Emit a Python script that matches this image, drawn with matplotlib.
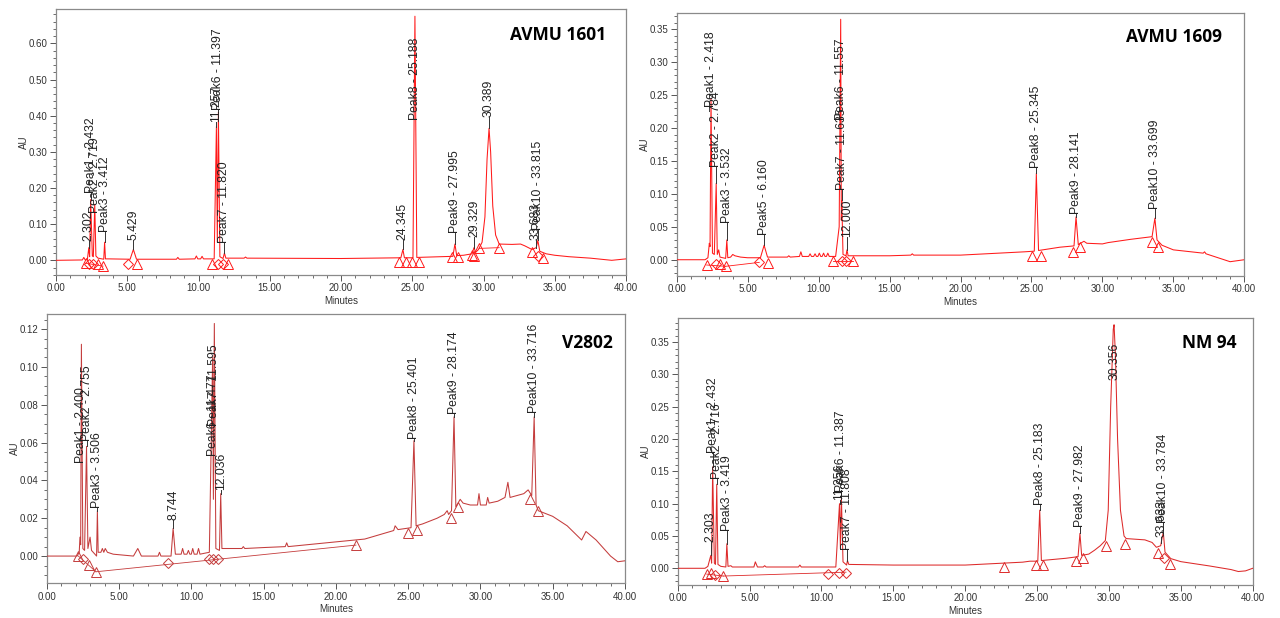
import numpy as np
import matplotlib
matplotlib.use("Agg")
import matplotlib.pyplot as plt
from matplotlib.ticker import MultipleLocator, AutoMinorLocator, FormatStrFormatter

plt.rcParams['font.family'] = ['Liberation Sans', 'DejaVu Sans']

# ---------------- AVMU 1601 (top left) ----------------
p1_name = "AVMU 1601"
p1_trace = [(0.0, 0.0), (1.85, 0.001), (1.95, 0.008), (2.05, 0.001), (2.2, 0.002),
            (2.302, 0.035), (2.36, 0.01), (2.432, 0.168), (2.55, 0.012), (2.62, 0.01),
            (2.719, 0.155), (2.8, 0.012), (2.95, 0.006), (3.35, 0.003), (3.412, 0.05),
            (3.47, 0.004), (3.7, 0.004), (5.2, 0.003), (5.429, 0.03), (5.65, 0.003),
            (8.45, 0.003), (8.55, 0.008), (8.65, 0.003), (9.75, 0.004), (9.85, 0.012),
            (9.95, 0.004), (10.15, 0.004), (10.25, 0.011), (10.35, 0.004), (11.1, 0.004),
            (11.257, 0.37), (11.32, 0.05), (11.397, 0.41), (11.5, 0.01), (11.72, 0.005),
            (11.82, 0.02), (11.92, 0.006), (13.2, 0.006), (13.3, 0.009), (13.4, 0.006),
            (20.0, 0.005), (24.2, 0.007), (24.345, 0.03), (24.45, 0.007), (25.05, 0.007),
            (25.188, 0.675), (25.32, 0.008), (27.85, 0.011), (27.995, 0.045), (28.12, 0.013),
            (28.6, 0.014), (29.2, 0.018), (29.329, 0.035), (29.45, 0.022), (29.65, 0.03),
            (29.9, 0.05), (30.1, 0.12), (30.25, 0.28), (30.389, 0.365), (30.5, 0.3),
            (30.65, 0.15), (30.85, 0.07), (31.1, 0.045), (32.0, 0.044), (32.6, 0.045),
            (32.9, 0.04), (33.4, 0.03), (33.7, 0.035), (33.815, 0.055), (33.95, 0.025),
            (34.4, 0.018), (35.0, 0.014), (36.0, 0.01), (37.5, 0.006), (39.0, 0.0),
            (40.0, 0.004)]
p1_tri = [(2.1, -0.008), (2.95, -0.01), (3.3, -0.016), (5.65, -0.01), (10.95, -0.01),
          (12.1, -0.01), (24.07, -0.004), (24.56, -0.004), (24.98, -0.004), (25.5, -0.004),
          (27.77, 0.01), (28.19, 0.01), (29.17, 0.015), (29.33, 0.012), (29.7, 0.033),
          (31.1, 0.035), (33.38, 0.022), (34.2, 0.006)]
p1_dia = [(2.33, -0.01), (2.6, -0.01), (5.03, -0.01), (11.35, -0.01), (11.7, -0.01),
          (33.85, 0.012)]
p1_base = [[(2.1, -0.008), (3.3, -0.016)], [(29.7, 0.033), (31.1, 0.035)]]
p1_labels = [("2.302", 2.302, 0.054), ("Peak1 - 2.432", 2.432, 0.185),
             ("Peak2 - 2.719", 2.719, 0.13), ("Peak3 - 3.412", 3.412, 0.077),
             ("5.429", 5.429, 0.056), ("11.257", 11.257, 0.383),
             ("Peak6 - 11.397", 11.397, 0.415), ("Peak7 - 11.820", 11.820, 0.048),
             ("24.345", 24.345, 0.056), ("Peak8 - 25.188", 25.188, 0.388),
             ("Peak9 - 27.995", 27.995, 0.075), ("29.329", 29.329, 0.064),
             ("30.389", 30.389, 0.397), ("33.683", 33.683, 0.055),
             ("Peak10 - 33.815", 33.815, 0.084)]
p1_yticks = [0.0, 0.1, 0.2, 0.3, 0.4, 0.5, 0.6]

# ---------------- AVMU 1609 (top right) ----------------
p2_name = "AVMU 1609"
p2_trace = [(0.0, 0.0), (2.0, 0.0), (2.2, 0.003), (2.3, 0.025), (2.35, 0.02),
            (2.418, 0.245), (2.52, 0.01), (2.65, 0.008), (2.784, 0.116), (2.86, 0.008),
            (2.96, 0.015), (3.05, 0.004), (3.45, 0.002), (3.532, 0.03), (3.6, 0.003),
            (3.8, 0.004), (3.95, 0.008), (4.1, 0.006), (4.5, 0.004), (5.0, 0.003),
            (5.9, 0.003), (6.16, 0.022), (6.4, 0.004), (7.8, 0.004), (7.9, 0.006),
            (8.0, 0.004), (8.65, 0.005), (8.75, 0.012), (8.85, 0.005), (9.3, 0.005),
            (9.4, 0.009), (9.5, 0.005), (9.65, 0.005), (9.75, 0.009), (9.85, 0.005),
            (9.95, 0.005), (10.05, 0.01), (10.15, 0.005), (10.25, 0.005), (10.35, 0.01),
            (10.45, 0.005), (10.55, 0.005), (10.65, 0.01), (10.75, 0.005), (11.2, 0.005),
            (11.45, 0.05), (11.557, 0.365), (11.6, 0.06), (11.635, 0.09), (11.72, 0.008),
            (11.93, 0.006), (12.0, 0.015), (12.08, 0.006), (15.0, 0.006), (16.5, 0.007),
            (16.6, 0.009), (16.7, 0.007), (20.0, 0.007), (24.5, 0.012), (25.2, 0.013),
            (25.345, 0.131), (25.5, 0.014), (27.0, 0.019), (28.0, 0.021), (28.141, 0.065),
            (28.3, 0.023), (28.7, 0.028), (28.9, 0.025), (30.0, 0.024), (30.4, 0.026),
            (32.0, 0.031), (33.5, 0.035), (33.699, 0.063), (33.85, 0.03), (34.2, 0.022),
            (35.0, 0.015), (37.1, 0.01), (37.2, 0.012), (37.3, 0.009), (39.0, -0.003),
            (40.0, 0.0)]
p2_tri = [(2.11, -0.008), (3.02, -0.007), (3.45, -0.01), (6.46, -0.005), (11.04, -0.002),
          (12.4, -0.002), (25.02, 0.005), (25.67, 0.005), (27.95, 0.012), (28.42, 0.02),
          (33.47, 0.027), (33.94, 0.02)]
p2_dia = [(2.77, -0.006), (5.82, -0.004), (11.65, -0.002), (11.93, -0.002)]
p2_base = [[(2.11, -0.008), (3.45, -0.01)], [(3.45, -0.01), (5.82, -0.004)],
           [(11.04, -0.002), (12.4, -0.002)]]
p2_labels = [("Peak1 - 2.418", 2.418, 0.232), ("Peak2 - 2.784", 2.784, 0.141),
             ("Peak3 - 3.532", 3.532, 0.055), ("Peak5 - 6.160", 6.160, 0.0375),
             ("Peak7 - 11.635", 11.635, 0.106), ("Peak6 - 11.557", 11.557, 0.212),
             ("12.000", 12.000, 0.035), ("Peak8 - 25.345", 25.345, 0.139),
             ("Peak9 - 28.141", 28.141, 0.07), ("Peak10 - 33.699", 33.699, 0.077)]
p2_yticks = [0.0, 0.05, 0.10, 0.15, 0.20, 0.25, 0.30, 0.35]

# ---------------- V2802 (bottom left) ----------------
p3_name = "V2802"
p3_trace = [(0.0, 0.0), (2.1, 0.0), (2.25, 0.002), (2.3, 0.01), (2.35, 0.006),
            (2.4, 0.112), (2.5, 0.004), (2.62, 0.003), (2.755, 0.058), (2.85, 0.004),
            (3.0, 0.01), (3.1, 0.003), (3.45, 0.0), (3.506, 0.024), (3.56, 0.002),
            (3.75, 0.002), (3.85, 0.004), (3.95, 0.002), (4.05, 0.004), (4.2, 0.002),
            (4.6, 0.001), (6.0, 0.0), (6.3, 0.004), (6.55, 0.0), (7.7, 0.0), (7.8, 0.002),
            (7.9, 0.0), (8.6, 0.0), (8.744, 0.0146), (8.9, 0.001), (9.3, 0.001),
            (9.4, 0.004), (9.5, 0.001), (9.7, 0.001), (9.8, 0.003), (9.9, 0.001),
            (10.0, 0.001), (10.1, 0.004), (10.2, 0.001), (10.4, 0.001), (10.5, 0.004),
            (10.6, 0.001), (11.25, 0.002), (11.477, 0.105), (11.53, 0.03), (11.595, 0.123),
            (11.7, 0.004), (11.95, 0.003), (12.036, 0.033), (12.12, 0.004), (13.5, 0.004),
            (13.6, 0.005), (13.7, 0.004), (15.0, 0.0045), (16.5, 0.005), (16.6, 0.007),
            (16.7, 0.005), (20.0, 0.0075), (22.0, 0.009), (24.0, 0.0135), (24.1, 0.016),
            (24.3, 0.014), (25.2, 0.015), (25.401, 0.061), (25.55, 0.016), (26.0, 0.017),
            (27.0, 0.02), (27.5, 0.022), (27.7, 0.024), (27.8, 0.022), (28.0, 0.024),
            (28.174, 0.0736), (28.3, 0.026), (28.6, 0.03), (28.8, 0.028), (29.3, 0.027),
            (29.8, 0.027), (29.9, 0.033), (30.0, 0.027), (30.4, 0.027), (30.5, 0.031),
            (30.6, 0.028), (31.2, 0.029), (31.7, 0.031), (31.9, 0.039), (32.05, 0.031),
            (33.0, 0.033), (33.3, 0.035), (33.55, 0.032), (33.716, 0.0736), (33.85, 0.027),
            (34.0, 0.024), (35.0, 0.021), (36.0, 0.016), (37.0, 0.0085), (37.3, 0.013),
            (38.0, 0.0085), (39.0, 0.0), (39.5, -0.003), (40.0, -0.0025)]
p3_tri = [(2.19, 0.0), (2.95, -0.0048), (3.41, -0.0083), (21.39, 0.0058), (25.0, 0.0123),
          (25.59, 0.0137), (27.96, 0.02), (28.42, 0.026), (33.42, 0.030), (33.95, 0.0238)]
p3_dia = [(2.53, -0.0015), (8.37, -0.0039), (11.22, -0.0015), (11.52, -0.0015),
          (11.87, -0.0015)]
p3_base = [[(2.19, 0.0), (3.41, -0.0083)], [(3.41, -0.0083), (21.39, 0.0058)]]
p3_labels = [("Peak1 - 2.400", 2.400, 0.049), ("Peak2 - 2.755", 2.755, 0.061),
             ("Peak3 - 3.506", 3.506, 0.0255), ("8.744", 8.744, 0.019),
             ("Peak6 - 11.477", 11.477, 0.053), ("Peak7 - 11.595", 11.595, 0.069),
             ("12.036", 12.036, 0.035), ("Peak8 - 25.401", 25.401, 0.062),
             ("Peak9 - 28.174", 28.174, 0.075), ("Peak10 - 33.716", 33.716, 0.0755)]
p3_yticks = [0.0, 0.02, 0.04, 0.06, 0.08, 0.10, 0.12]

# ---------------- NM 94 (bottom right) ----------------
p4_name = "NM 94"
p4_trace = [(0.0, 0.0), (1.9, 0.0), (2.1, 0.003), (2.303, 0.02), (2.36, 0.008),
            (2.432, 0.157), (2.55, 0.008), (2.63, 0.006), (2.716, 0.13), (2.8, 0.006),
            (3.0, 0.003), (3.35, 0.002), (3.419, 0.038), (3.5, 0.003), (3.7, 0.004),
            (3.8, 0.002), (5.3, 0.002), (5.4, 0.01), (5.55, 0.002), (5.95, 0.002),
            (6.05, 0.004), (6.15, 0.002), (8.4, 0.002), (8.5, 0.005), (8.6, 0.002),
            (11.0, 0.002), (11.256, 0.1), (11.32, 0.03), (11.387, 0.11), (11.5, 0.01),
            (11.75, 0.005), (11.808, 0.012), (11.9, 0.006), (15.0, 0.005), (20.0, 0.005),
            (24.0, 0.0095), (24.5, 0.011), (25.05, 0.011), (25.183, 0.09), (25.3, 0.012),
            (27.0, 0.0155), (27.85, 0.018), (27.982, 0.054), (28.1, 0.02), (28.6, 0.022),
            (29.0, 0.028), (29.4, 0.035), (29.75, 0.043), (29.95, 0.09), (30.12, 0.25),
            (30.3, 0.37), (30.356, 0.377), (30.45, 0.33), (30.6, 0.2), (30.8, 0.09),
            (31.05, 0.05), (31.2, 0.046), (32.5, 0.044), (33.0, 0.04), (33.3, 0.0325),
            (33.6, 0.035), (33.72, 0.05), (33.784, 0.055), (33.9, 0.025), (34.3, 0.015),
            (35.0, 0.0103), (37.0, 0.0036), (38.5, -0.002), (39.0, -0.005), (39.5, -0.004),
            (40.0, 0.0)]
p4_tri = [(2.02, -0.009), (2.3, -0.008), (3.17, -0.012), (22.72, 0.0015), (24.9, 0.005),
          (25.43, 0.005), (27.71, 0.011), (28.17, 0.016), (29.77, 0.034), (31.11, 0.038),
          (33.43, 0.024), (34.25, 0.007)]
p4_dia = [(2.6, -0.01), (10.48, -0.009), (11.24, -0.008), (11.71, -0.008), (33.85, 0.016)]
p4_base = [[(2.02, -0.009), (3.17, -0.012)], [(3.17, -0.012), (11.71, -0.006)]]
p4_labels = [("2.303", 2.303, 0.041), ("Peak1 - 2.432", 2.432, 0.178),
             ("Peak2 - 2.716", 2.716, 0.139), ("Peak3 - 3.419", 3.419, 0.057),
             ("11.256", 11.256, 0.106), ("Peak6 - 11.387", 11.387, 0.118),
             ("Peak7 - 11.808", 11.808, 0.029), ("Peak8 - 25.183", 25.183, 0.098),
             ("Peak9 - 27.982", 27.982, 0.064), ("30.356", 30.356, 0.292),
             ("33.633", 33.633, 0.049), ("Peak10 - 33.784", 33.784, 0.07)]
p4_yticks = [0.0, 0.05, 0.10, 0.15, 0.20, 0.25, 0.30, 0.35]

W, H = 1280, 618


def px_box(left, top, right, bottom):
    # converte un riquadro in pixel in coordinate della figura
    return [left / W, 1 - bottom / H, (right - left) / W, (bottom - top) / H]


def draw_panel(ax, trace, tri, dia, base, labels, yticks, ylim, color, n_minor):
    t, au = zip(*trace)
    t = np.array(t)
    au = np.array(au)

    # baseline di integrazione
    for seg in base:
        bt, ba = zip(*seg)
        ax.plot(bt, ba, color=color, lw=0.6, zorder=2)

    # cromatogramma
    ax.plot(t, au, color=color, lw=0.75, zorder=3)

    # marcatori di inizio/fine picco
    tt, ta = zip(*tri)
    ax.plot(tt, ta, ls='none', marker='^', ms=7, mfc='none', mec=color, mew=0.7, zorder=4)
    dt, da = zip(*dia)
    ax.plot(dt, da, ls='none', marker='D', ms=5, mfc='none', mec=color, mew=0.7, zorder=4)

    # etichette dei picchi
    for txt, rt, ystart in labels:
        apex = np.interp(rt, t, au)
        if ystart > apex:
            ax.plot([rt, rt], [apex, ystart], color='#333333', lw=0.7, zorder=5)
        ax.text(rt, ystart, txt, rotation=90, ha='center', va='bottom',
                fontsize=8.7, color='#222222', zorder=6)

    ax.set_xlim(0, 40)
    ax.set_ylim(*ylim)
    ax.xaxis.set_major_locator(MultipleLocator(5))
    ax.xaxis.set_minor_locator(AutoMinorLocator(5))
    ax.set_yticks(yticks)
    ax.yaxis.set_minor_locator(AutoMinorLocator(n_minor))
    ax.xaxis.set_major_formatter(FormatStrFormatter('%.2f'))
    ax.yaxis.set_major_formatter(FormatStrFormatter('%.2f'))
    ax.tick_params(which='major', direction='out', length=4, width=0.7,
                   color='#555555', labelsize=7, labelcolor='#333333', pad=2)
    ax.tick_params(which='minor', direction='out', length=2.5, width=0.6, color='#555555')
    for sp in ax.spines.values():
        sp.set_color('#8a8a8a')
        sp.set_linewidth(0.9)
    ax.set_xlabel('Minutes', fontsize=7, color='#333333', labelpad=2)
    ax.set_ylabel('AU', fontsize=7, color='#333333', labelpad=0)


fig = plt.figure(figsize=(W / 100, H / 100), dpi=100)
fig.patch.set_facecolor('white')

ax1 = fig.add_axes(px_box(56, 9, 626, 275))
ax2 = fig.add_axes(px_box(676.7, 12.7, 1244.3, 276))
ax3 = fig.add_axes(px_box(46.7, 314, 625, 583.3))
ax4 = fig.add_axes(px_box(677.7, 318.3, 1252.7, 584.7))

draw_panel(ax1, p1_trace, p1_tri, p1_dia, p1_base, p1_labels, p1_yticks,
           (-0.0406, 0.695), '#ff1a1a', 5)
draw_panel(ax2, p2_trace, p2_tri, p2_dia, p2_base, p2_labels, p2_yticks,
           (-0.0247, 0.375), '#ff1a1a', 5)
draw_panel(ax3, p3_trace, p3_tri, p3_dia, p3_base, p3_labels, p3_yticks,
           (-0.0144, 0.128), '#c43c3c', 4)
draw_panel(ax4, p4_trace, p4_tri, p4_dia, p4_base, p4_labels, p4_yticks,
           (-0.0254, 0.387), '#dd2a2a', 5)

# nomi dei campioni
for name, x, y in [(p1_name, 606, 35.5), (p2_name, 1222, 37.5),
                   (p3_name, 613, 343), (p4_name, 1236, 342.5)]:
    fig.text(x / W, 1 - y / H, name, ha='right', va='center', fontsize=12.5,
             fontweight='bold', family=['Open Sans', 'DejaVu Sans'], color='black')

fig.savefig('out.png', dpi=100)
